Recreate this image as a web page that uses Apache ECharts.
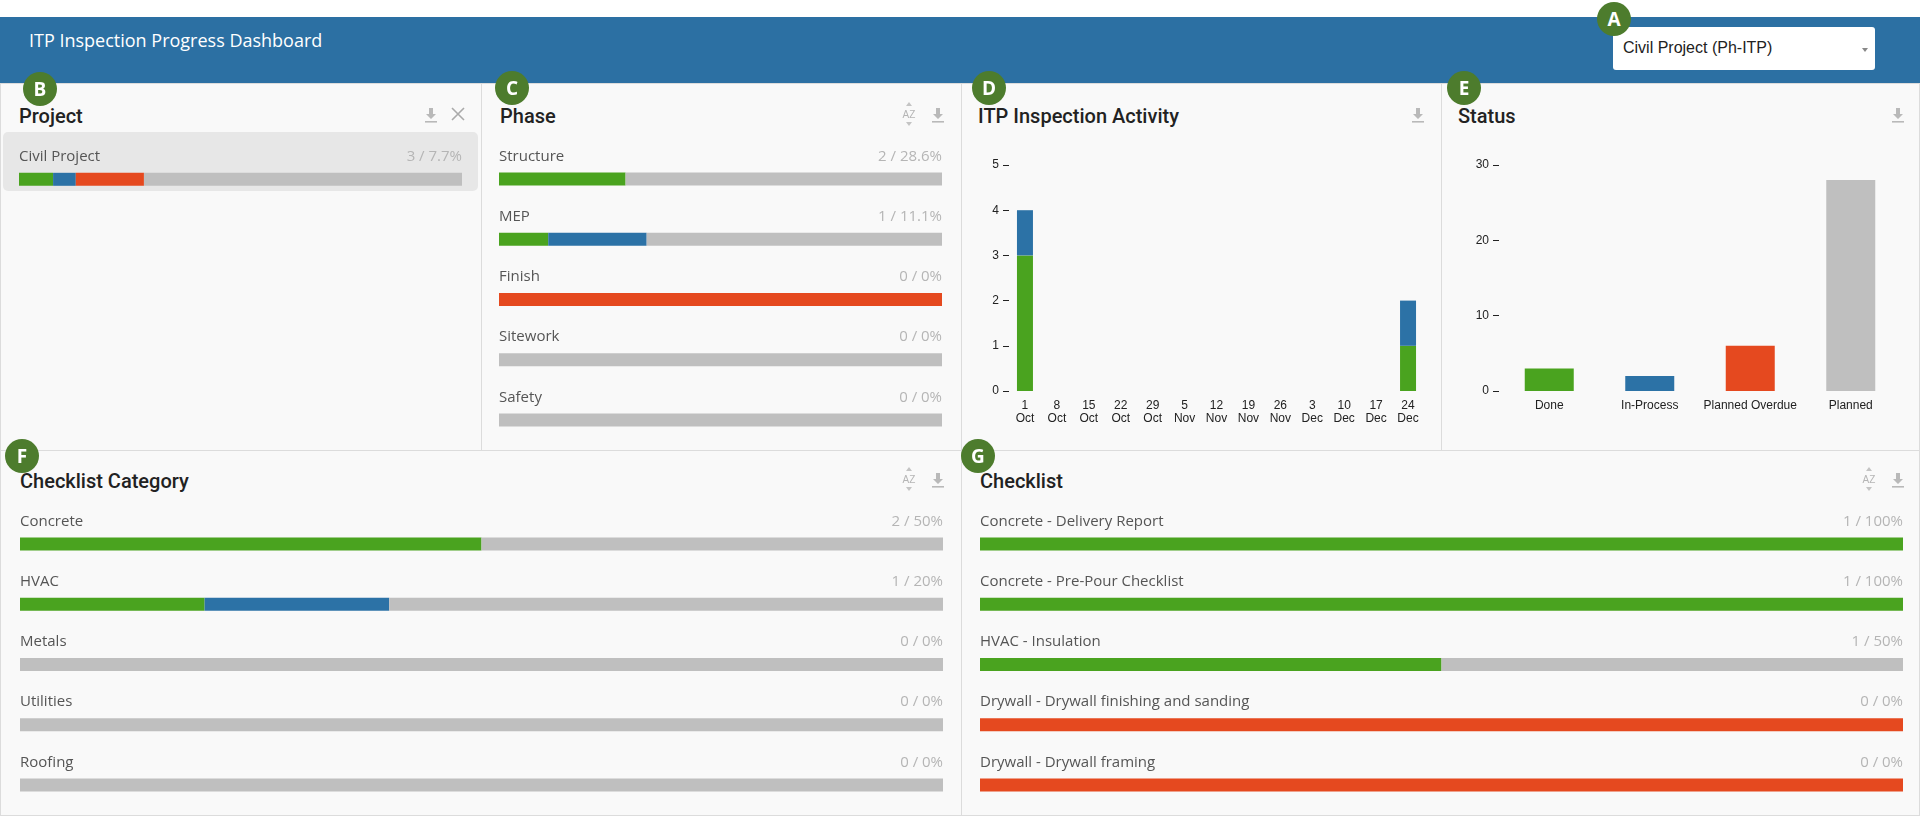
<!DOCTYPE html>
<html>
<head>
<meta charset="utf-8">
<script src="https://cdn.jsdelivr.net/npm/echarts@6/dist/echarts.min.js"></script>
<style>
  body { margin: 0; background: #fff; }
  #page { position: relative; width: 1920px; height: 820px; overflow: hidden; background: #fff; font-family: 'Open Sans', sans-serif; }
  .hdr { position: absolute; left: 0; top: 17px; width: 1920px; height: 66px; background: #2c70a3; }
  .hdr-title { position: absolute; left: 29px; top: 11px; color: #fff; font-size: 18px; line-height: 24px; }
  .select { position: absolute; left: 1613px; top: 10px; width: 262px; height: 43px; background: #fff; border-radius: 3px; box-sizing: border-box; }
  .select span { position: absolute; left: 10px; top: 12px; font-family: 'Liberation Sans', Arial, sans-serif; font-size: 16px; color: #222; }
  .select i { position: absolute; left: 249px; top: 21px; width: 0; height: 0; border-left: 3px solid transparent; border-right: 3px solid transparent; border-top: 4px solid #888; }
  .panel { position: absolute; background: #f9f9f9; border: 1px solid #dcdcdc; box-sizing: border-box; }
  .title { position: absolute; font-family: Roboto, sans-serif; font-weight: 500; font-size: 20px; color: #222; line-height: 24px; }
  .chart { position: absolute; }
  .rowsel { position: absolute; left: 3px; top: 132px; width: 475px; height: 59px; background: #e7e7e7; border-radius: 5px; }
  .badge { position: absolute; width: 34px; height: 34px; margin: -17px 0 0 -17px; border-radius: 50%; background: #4d7c2d; color: #fff; font-family: 'Open Sans', sans-serif; font-weight: 700; font-size: 19px; line-height: 34px; text-align: center; }
  .icon { position: absolute; }
</style>
</head>
<body>
<div id="page">
  <div class="hdr">
    <div class="hdr-title">ITP Inspection Progress Dashboard</div>
    <div class="select"><span>Civil Project (Ph-ITP)</span><i></i></div>
  </div>

  <div class="panel" style="left:0;top:83px;width:482px;height:368px"></div>
  <div class="panel" style="left:481px;top:83px;width:481px;height:368px"></div>
  <div class="panel" style="left:961px;top:83px;width:481px;height:368px"></div>
  <div class="panel" style="left:1441px;top:83px;width:479px;height:368px"></div>
  <div class="panel" style="left:0;top:450px;width:962px;height:366px"></div>
  <div class="panel" style="left:961px;top:450px;width:959px;height:366px"></div>

  <div class="rowsel"></div>

  <div class="title" style="left:19px;top:104px">Project</div>
  <div class="title" style="left:500px;top:104px">Phase</div>
  <div class="title" style="left:978px;top:104px">ITP Inspection Activity</div>
  <div class="title" style="left:1458px;top:104px">Status</div>
  <div class="title" style="left:20px;top:469px">Checklist Category</div>
  <div class="title" style="left:980px;top:469px">Checklist</div>

  <div id="cProject" class="chart" style="left:0;top:83px;width:481px;height:367px"></div>
  <div id="cPhase" class="chart" style="left:481px;top:83px;width:480px;height:367px"></div>
  <div id="cActivity" class="chart" style="left:961px;top:83px;width:480px;height:367px"></div>
  <div id="cStatus" class="chart" style="left:1441px;top:83px;width:479px;height:367px"></div>
  <div id="cCategory" class="chart" style="left:0;top:450px;width:961px;height:365px"></div>
  <div id="cChecklist" class="chart" style="left:961px;top:450px;width:959px;height:365px"></div>

  <div id="icons"></div>

  <div class="badge" style="left:1614px;top:19px">A</div>
  <div class="badge" style="left:40px;top:89px">B</div>
  <div class="badge" style="left:512px;top:88px">C</div>
  <div class="badge" style="left:989px;top:88px">D</div>
  <div class="badge" style="left:1464px;top:88px">E</div>
  <div class="badge" style="left:22px;top:456px">F</div>
  <div class="badge" style="left:978px;top:456px">G</div>
</div>

<script>
// status totals
const statusNames = ['Done', 'In-Process', 'Planned Overdue', 'Planned'];
const statusColors = ['#4aa31f', '#2c72a6', '#e5491f', '#bfbfbf'];
const statusCounts = [3, 2, 6, 28];

// project
const projectNames = ['Civil Project'];
const projectDone = [3];
const projectInProcess = [2];
const projectOverdue = [6];
const projectPlanned = [28];

// phase
const phaseNames = ['Structure', 'MEP', 'Finish', 'Sitework', 'Safety'];
const phaseDone = [2, 1, 0, 0, 0];
const phaseInProcess = [0, 2, 0, 0, 0];
const phaseOverdue = [0, 0, 6, 0, 0];
const phasePlanned = [5, 6, 0, 9, 8];

// checklist category
const categoryNames = ['Concrete', 'HVAC', 'Metals', 'Utilities', 'Roofing'];
const categoryDone = [2, 1, 0, 0, 0];
const categoryInProcess = [0, 1, 0, 0, 0];
const categoryOverdue = [0, 0, 0, 0, 0];
const categoryPlanned = [2, 3, 4, 5, 3];

// checklist
const checklistNames = ['Concrete - Delivery Report', 'Concrete - Pre-Pour Checklist', 'HVAC - Insulation',
  'Drywall - Drywall finishing and sanding', 'Drywall - Drywall framing'];
const checklistDone = [1, 1, 1, 0, 0];
const checklistInProcess = [0, 0, 0, 0, 0];
const checklistOverdue = [0, 0, 0, 3, 3];
const checklistPlanned = [0, 0, 1, 0, 0];

// weekly activity
const weekDays = ['1', '8', '15', '22', '29', '5', '12', '19', '26', '3', '10', '17', '24'];
const weekMonths = ['Oct', 'Oct', 'Oct', 'Oct', 'Oct', 'Nov', 'Nov', 'Nov', 'Nov', 'Dec', 'Dec', 'Dec', 'Dec'];
const activityDone = [3, 0, 0, 0, 0, 0, 0, 0, 0, 0, 0, 0, 1];
const activityInProcess = [1, 0, 0, 0, 0, 0, 0, 0, 0, 0, 0, 0, 1];

function pct(done, total) {
  if (!total) return '0%';
  return Number((done / total * 100).toFixed(1)) + '%';
}

// horizontal progress list (one stacked 100% bar per row)
function progressList(id, names, groups, grid) {
  const chart = echarts.init(document.getElementById(id));
  const totals = names.map((n, i) => groups.reduce((s, g) => s + g[i], 0));
  const rightLabels = names.map((n, i) => groups[0][i] + ' / ' + pct(groups[0][i], totals[i]));
  const txt = { show: true, fontSize: 15, fontFamily: 'Open Sans', verticalAlign: 'middle' };
  const series = groups.map((g, k) => ({
    type: 'bar', stack: 'all', barWidth: 13, silent: true,
    itemStyle: { color: statusColors[k] },
    data: g.map((v, i) => totals[i] ? v / totals[i] * 100 : 0)
  }));
  // invisible full-width bar that carries the row labels
  series.push({
    type: 'bar', barWidth: 13, barGap: '-100%', silent: true, z: 1,
    itemStyle: { color: 'rgba(0,0,0,0)' },
    label: Object.assign({ position: [0, -16], align: 'left', color: '#555',
      formatter: p => names[p.dataIndex] }, txt),
    data: names.map(() => 100)
  });
  series.push({
    type: 'bar', barWidth: 13, barGap: '-100%', silent: true, z: 1,
    itemStyle: { color: 'rgba(0,0,0,0)' },
    label: Object.assign({ position: ['100%', -16], align: 'right', color: '#b5b5b5',
      formatter: p => rightLabels[p.dataIndex] }, txt),
    data: names.map(() => 100)
  });
  chart.setOption({
    animation: false,
    grid: grid,
    xAxis: { type: 'value', min: 0, max: 100, show: false },
    yAxis: { type: 'category', data: names, inverse: true, show: false },
    series: series
  });
}

progressList('cProject', projectNames, [projectDone, projectInProcess, projectOverdue, projectPlanned],
  { left: 19, right: 19, top: 66, height: 60.6 });
progressList('cPhase', phaseNames, [phaseDone, phaseInProcess, phaseOverdue, phasePlanned],
  { left: 18, right: 19, top: 66, height: 303 });
progressList('cCategory', categoryNames, [categoryDone, categoryInProcess, categoryOverdue, categoryPlanned],
  { left: 20, right: 18, top: 64, height: 303 });
progressList('cChecklist', checklistNames, [checklistDone, checklistInProcess, checklistOverdue, checklistPlanned],
  { left: 19, right: 17, top: 64, height: 303 });

const axisFont = { fontFamily: 'Liberation Sans, Arial, sans-serif', fontSize: 12, color: '#222' };

// ITP inspection activity
const actChart = echarts.init(document.getElementById('cActivity'));
actChart.setOption({
  animation: false,
  grid: { left: 48, right: 17, top: 82, height: 226 },
  xAxis: {
    type: 'category',
    data: weekDays.map((d, i) => d + '\n' + weekMonths[i]),
    axisLine: { show: false }, axisTick: { show: false },
    axisLabel: Object.assign({ interval: 0, margin: 8, lineHeight: 13 }, axisFont)
  },
  yAxis: {
    type: 'value', min: 0, max: 5, interval: 1,
    splitLine: { show: false }, axisLine: { show: false },
    axisTick: { show: true, length: 6, lineStyle: { color: '#222' } },
    axisLabel: Object.assign({ margin: 10 }, axisFont)
  },
  series: [
    { name: 'Done', type: 'bar', stack: 'a', barWidth: 16, itemStyle: { color: statusColors[0] }, data: activityDone },
    { name: 'In-Process', type: 'bar', stack: 'a', barWidth: 16, itemStyle: { color: statusColors[1] }, data: activityInProcess }
  ]
});

// status
const stChart = echarts.init(document.getElementById('cStatus'));
stChart.setOption({
  animation: false,
  grid: { left: 58, right: 19, top: 82, height: 226 },
  xAxis: {
    type: 'category', data: statusNames,
    axisLine: { show: false }, axisTick: { show: false },
    axisLabel: Object.assign({ interval: 0, margin: 9 }, axisFont)
  },
  yAxis: {
    type: 'value', min: 0, max: 30, interval: 10,
    splitLine: { show: false }, axisLine: { show: false },
    axisTick: { show: true, length: 6, lineStyle: { color: '#222' } },
    axisLabel: Object.assign({ margin: 10 }, axisFont)
  },
  series: [{
    type: 'bar', barWidth: 49,
    data: statusCounts.map((v, i) => ({ value: v, itemStyle: { color: statusColors[i] } }))
  }]
});

// small header icons (download / close / sort)
const dl = (x, y) => `<svg class="icon" style="left:${x}px;top:${y}px" width="14" height="16" viewBox="0 0 14 16">
  <path d="M5 1h4v6h3l-5 5-5-5h3z" fill="#b9b9b9"/><rect x="1" y="14" width="12" height="1.6" fill="#b9b9b9"/></svg>`;
const close = (x, y) => `<svg class="icon" style="left:${x}px;top:${y}px" width="14" height="14" viewBox="0 0 14 14">
  <path d="M1 1L13 13M13 1L1 13" stroke="#aaa" stroke-width="1.6"/></svg>`;
const az = (x, y) => `<svg class="icon" style="left:${x}px;top:${y}px" width="18" height="26" viewBox="0 0 18 26">
  <path d="M9 1l3 4h-6z M9 25l3-4h-6z" fill="#c4c4c4"/>
  <text x="9" y="17" font-family="Liberation Sans, Arial" font-size="10" fill="#b5b5b5" text-anchor="middle">AZ</text></svg>`;
document.getElementById('icons').innerHTML =
  dl(424, 107) + close(451, 107) +
  az(900, 101) + dl(931, 107) +
  dl(1411, 107) + dl(1891, 107) +
  az(900, 466) + dl(931, 472) +
  az(1860, 466) + dl(1891, 472);
</script>
</body>
</html>
